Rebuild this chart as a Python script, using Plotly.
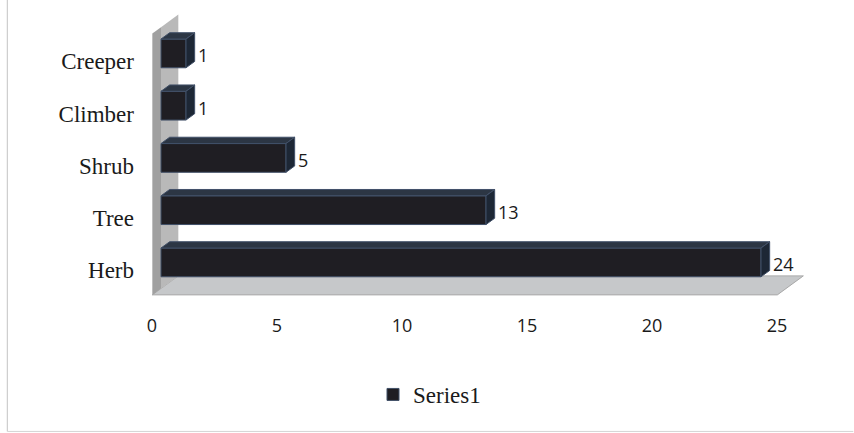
import plotly.graph_objects as go

# Growth-form counts
categories = ["Herb", "Tree", "Shrub", "Climber", "Creeper"]
values = [24, 13, 5, 1, 1]
x_ticks = [0, 5, 10, 15, 20, 25]
series_name = "Series1"

W, H = 854, 433

# Pseudo-3D geometry (screen pixels)
PX_X = 25.0           # pixels per value unit
PX_Y = 52.25          # pixels per category step
DEPTH = (26.0, 19.0)  # full depth of the box: right / up
BAR_Z = (1 / 3, 2 / 3)  # depth slice occupied by the bars
BAR_W = 0.55

X0_PX = 160.7  # value 0 on the bar front plane
Y0_PX = 262.0  # first category centre on the bar front plane
x_range = [-0.6, 27.0]
y_range = [-0.7, 4.85]

ml = X0_PX + x_range[0] * PX_X
mr = W - (X0_PX + x_range[1] * PX_X)
mt = Y0_PX - y_range[1] * PX_Y
mb = H - (Y0_PX - y_range[0] * PX_Y)

FRONT = "#1f1e23"
TOP = "#2c3644"
SIDE = "#1d2735"
EDGE = "#415068"
WALL_FRONT = "#a0a0a0"
WALL_BACK = "#b9b9b9"
FLOOR = "#c6c8ca"


def proj(x, y, z):
    """Map a box point (value, category, depth) to axis coordinates."""
    dz = z - BAR_Z[0]
    return x + dz * DEPTH[0] / PX_X, y + dz * DEPTH[1] / PX_Y


def poly(points):
    pts = [proj(*p) for p in points]
    return "M " + " L ".join(f"{px:.4f},{py:.4f}" for px, py in pts) + " Z"


n = len(categories)
y_lo, y_hi = -0.5, n - 0.5
x_lo, x_hi = x_ticks[0], x_ticks[-1]

shapes = []
# floor
shapes.append(dict(type="path", xref="x", yref="y", layer="below",
                   path=poly([(x_lo, y_lo, 0), (x_hi, y_lo, 0), (x_hi, y_lo, 1), (x_lo, y_lo, 1)]),
                   fillcolor=FLOOR, line=dict(color="#a9a9a9", width=1)))
# side wall, shaded darker towards the front
for (za, zb), col in [((0, BAR_Z[0]), WALL_FRONT), ((BAR_Z[0], 1), WALL_BACK)]:
    shapes.append(dict(type="path", xref="x", yref="y", layer="below",
                       path=poly([(x_lo, y_lo, za), (x_lo, y_lo, zb), (x_lo, y_hi, zb), (x_lo, y_hi, za)]),
                       fillcolor=col, line=dict(width=0)))

# top and end faces of each bar
for i, v in enumerate(values):
    yt, yb = i + BAR_W / 2, i - BAR_W / 2
    z0, z1 = BAR_Z
    shapes.append(dict(type="path", xref="x", yref="y", layer="above",
                       path=poly([(0, yt, z0), (v, yt, z0), (v, yt, z1), (0, yt, z1)]),
                       fillcolor=TOP, line=dict(color=EDGE, width=1)))
    shapes.append(dict(type="path", xref="x", yref="y", layer="above",
                       path=poly([(v, yb, z0), (v, yt, z0), (v, yt, z1), (v, yb, z1)]),
                       fillcolor=SIDE, line=dict(color=EDGE, width=1)))

# chart frame
plot_w, plot_h = W - ml - mr, H - mt - mb


def paper_x(px):
    return (px - ml) / plot_w


def paper_y(py):
    return ((H - mb) - py) / plot_h


shapes.append(dict(type="line", xref="paper", yref="paper",
                   x0=paper_x(7), x1=paper_x(7), y0=paper_y(-5), y1=paper_y(431),
                   line=dict(color="#c4c4c4", width=1)))
shapes.append(dict(type="line", xref="paper", yref="paper",
                   x0=paper_x(7), x1=paper_x(W - 1), y0=paper_y(431), y1=paper_y(431),
                   line=dict(color="#d4d4d4", width=1)))

# value labels beside each bar end
side_dx = DEPTH[0] * (BAR_Z[1] - BAR_Z[0])
annotations = [
    dict(x=v, y=i, xref="x", yref="y", text=str(v), showarrow=False,
         xanchor="left", yanchor="middle", xshift=side_dx + 1, yshift=-2,
         font=dict(family="Open Sans", size=18, color="#1a1a1a"))
    for i, v in enumerate(values)
]

fig = go.Figure(go.Bar(
    x=values, y=list(range(n)), orientation="h", name=series_name,
    width=BAR_W, marker=dict(color=FRONT, line=dict(color=EDGE, width=1)),
    showlegend=True, hoverinfo="x+name",
))

fig.update_layout(
    width=W, height=H,
    margin=dict(l=ml, r=mr, t=mt, b=mb, pad=0),
    paper_bgcolor="white", plot_bgcolor="white",
    shapes=shapes, annotations=annotations,
    xaxis=dict(range=x_range, tickvals=x_ticks, showgrid=False, zeroline=False,
               showline=False, ticks="", ticklabelshift=round(-DEPTH[0] * BAR_Z[0]),
               ticklabelstandoff=14,
               tickfont=dict(family="Open Sans", size=18, color="#1a1a1a")),
    yaxis=dict(range=y_range, tickvals=list(range(n)), ticktext=categories,
               showgrid=False, zeroline=False, showline=False, ticks="",
               ticklabelshift=8, ticklabelstandoff=11,
               tickfont=dict(family="Liberation Serif", size=23, color="#1a1a1a")),
    legend=dict(orientation="h", xref="container", yref="container",
                x=373 / W, y=1 - 373 / H, xanchor="left", yanchor="top",
                font=dict(family="Liberation Serif", size=23, color="#1a1a1a"),
                bgcolor="rgba(0,0,0,0)"),
    showlegend=True,
)

fig.write_html("out.html")
